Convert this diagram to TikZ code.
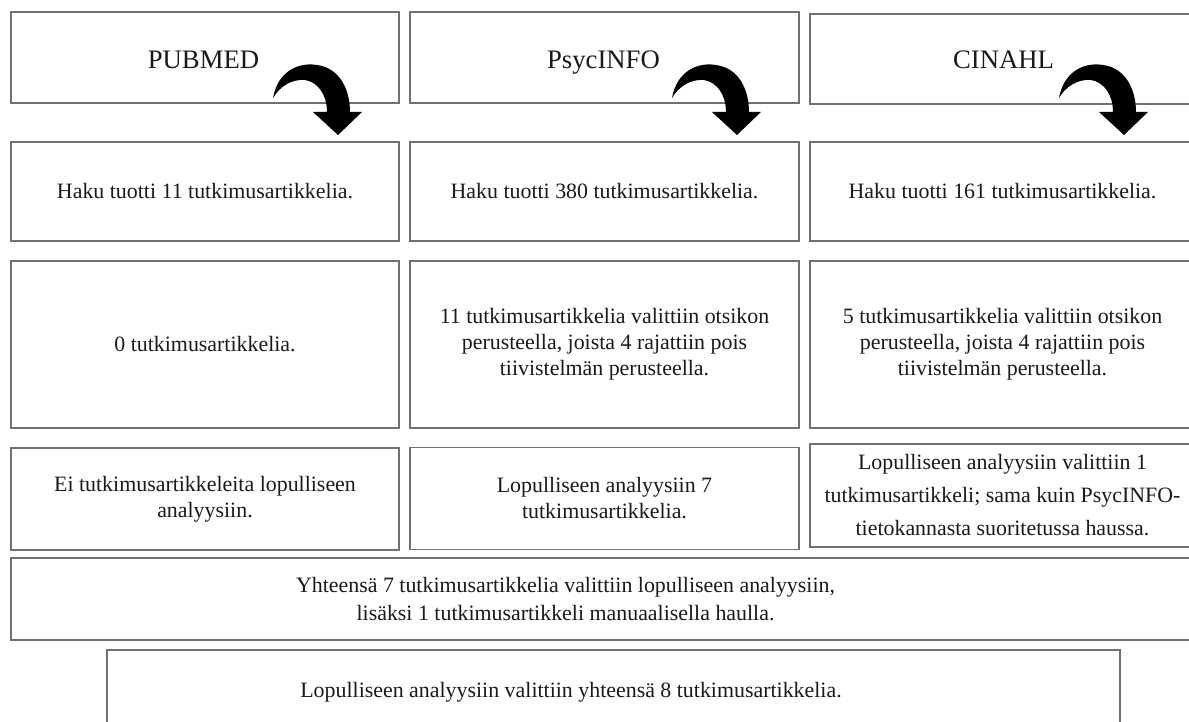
\documentclass[tikz,border=0pt]{standalone}
\usepackage{fontspec}
\setmainfont{Liberation Serif}
\definecolor{boxgray}{HTML}{707070}
\definecolor{txt}{HTML}{1A1A1A}
\newcommand\bodyfont{\fontsize{21.9}{26}\selectfont}
\newcommand\bodywide{\fontsize{21.9}{28}\selectfont}
\newcommand\bodyloose{\fontsize{21.9}{33}\selectfont}
\newcommand\titlefont{\fontsize{26.7}{32}\selectfont}
\begin{document}
\begin{tikzpicture}[x=1pt,y=-1pt,
  box/.style={draw=boxgray, line width=1.4pt, rectangle, inner sep=0pt,
    align=center, text=txt, font=\bodyfont},
  titlebox/.style={box, font=\titlefont},
  titletext/.style={inner sep=0pt, text=txt, font=\titlefont, text height=19pt, text depth=0pt},
  plaintext/.style={inner sep=0pt, align=center, text=txt},
  bendarrow/.pic={\fill[black] (0,0) .. controls (5,-28) and (27,-36) .. (44,-33)
      .. controls (67,-30) and (77,-8) .. (77,14) -- (89,14) -- (65,37) -- (40,14)
      -- (54,14) .. controls (54,-3) and (45,-16) .. (32,-18)
      .. controls (19,-19) and (7,-12) .. cycle;}
]
\useasboundingbox (0,0) rectangle (1189,722);
\fill[white] (0,0) rectangle (1189,722);

% row 1
\node[titlebox, minimum width=388, minimum height=91] (t1) at (205,57.5) {};
\node[titlebox, minimum width=389, minimum height=91] (t2) at (604.5,57.5) {};
\node[titlebox, minimum width=385, minimum height=90] (t3) at (1002.5,59) {};
\node[titletext] (t1t) at (203.5,59.5) {PUBMED};
\node[titletext] (t2t) at (603.5,59.5) {PsycINFO};
\node[titletext] (t3t) at (1003.5,59.5) {CINAHL};

% row 2
\node[box, minimum width=388, minimum height=99] (h1) at (205,191.5) {Haku tuotti 11 tutkimusartikkelia.};
\node[box, minimum width=389, minimum height=99] (h2) at (604.5,191.5) {Haku tuotti 380 tutkimusartikkelia.};
\node[box, minimum width=385, minimum height=99] (h3) at (1002.5,191.5) {Haku tuotti 161 tutkimusartikkelia.};

% row 3
\node[box, minimum width=388, minimum height=167] (s1) at (205,344.5) {0 tutkimusartikkelia.};
\node[box, minimum width=389, minimum height=167] (s2) at (604.5,344.5) {11 tutkimusartikkelia valittiin otsikon\\perusteella, joista 4 rajattiin pois\\tiivistelmän perusteella.};
\node[box, minimum width=385, minimum height=167] (s3) at (1002.5,344.5) {5 tutkimusartikkelia valittiin otsikon\\perusteella, joista 4 rajattiin pois\\tiivistelmän perusteella.};

% row 4
\node[box, minimum width=388, minimum height=102] (f1) at (205,499) {Ei tutkimusartikkeleita lopulliseen\\analyysiin.};
\node[box, minimum width=389, minimum height=102] (f2) at (604.5,498.5) {Lopulliseen analyysiin 7\\tutkimusartikkelia.};
\node[box, font=\bodyloose, minimum width=385, minimum height=103] (f3) at (1002.5,495.5) {Lopulliseen analyysiin valittiin 1\\tutkimusartikkeli; sama kuin PsycINFO-\\tietokannasta suoritetussa haussa.};

% row 5
\node[box, minimum width=1200, minimum height=82] (tot) at (611,599) {};
\node[plaintext, font=\bodywide] (totText) at (565.5,599) {Yhteensä 7 tutkimusartikkelia valittiin lopulliseen analyysiin,\\lisäksi 1 tutkimusartikkeli manuaalisella haulla.};

% row 6
\node[box, minimum width=1013, minimum height=120] (fin) at (613.5,710) {};
\node[plaintext, font=\bodyfont] (finText) at (571,692) {Lopulliseen analyysiin valittiin yhteensä 8 tutkimusartikkelia.};

% curved arrows
\pic at (273,98) {bendarrow};
\pic at (672,98) {bendarrow};
\pic at (1059,98) {bendarrow};
\end{tikzpicture}
\end{document}
